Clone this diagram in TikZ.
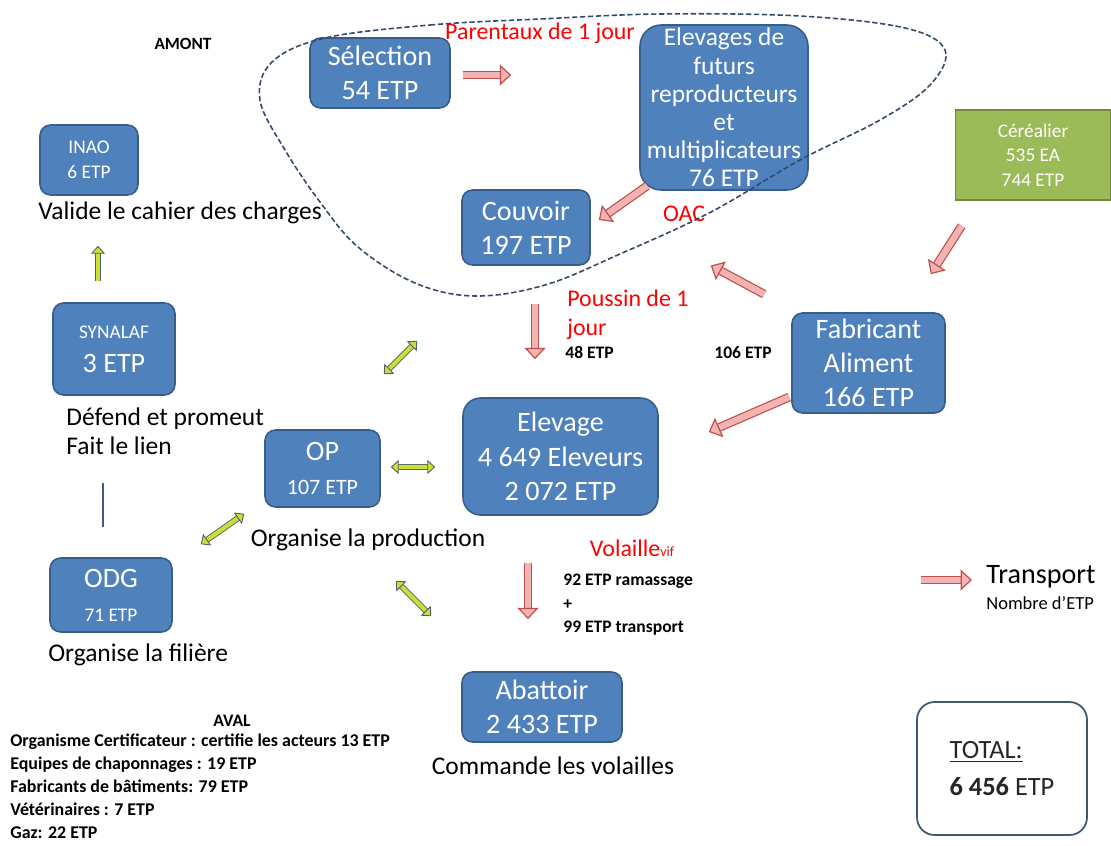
\documentclass[tikz,border=0pt]{standalone}
\usepackage{fontspec}
\setmainfont{Carlito}
\usepackage{tikz}
\usetikzlibrary{arrows.meta, positioning}
\definecolor{BoxBlue}{RGB}{79,129,189}
\definecolor{BoxEdge}{RGB}{56,93,138}
\definecolor{CerGreen}{RGB}{155,187,89}
\definecolor{CerEdge}{RGB}{113,137,63}
\definecolor{ArrRed}{RGB}{192,80,77}
\definecolor{ArrPink}{RGB}{242,180,178}
\definecolor{YelFill}{RGB}{206,222,52}
\definecolor{YelEdge}{RGB}{72,96,110}
\definecolor{RedTxt}{RGB}{255,0,0}
\definecolor{DashEdge}{RGB}{52,74,104}
\definecolor{TotEdge}{RGB}{64,88,115}
\newcommand{\smtxt}{\fontsize{11}{14}\selectfont}

\begin{document}
\begin{tikzpicture}[x=0.02cm, y=-0.02cm,
    bx/.style={rectangle, rounded corners=6pt, draw=BoxEdge, fill=BoxBlue,
               text=white, align=center, line width=0.9pt, inner sep=0pt,
               font=\fontsize{16}{19.5}\selectfont},
    txt/.style={font=\fontsize{14.5}{17}\selectfont, align=left, inner sep=0pt},
    rtxt/.style={font=\fontsize{13.6}{16}\selectfont, text=RedTxt, align=left,
                 inner sep=0pt},
    ntxt/.style={font=\fontsize{10}{13.4}\selectfont\bfseries, align=left,
                 inner sep=0pt},
    rarr/.style={draw=ArrRed, line width=0.7pt, double=ArrPink,
                 double distance=3.6pt,
                 -{Triangle[open, fill=ArrPink, length=6.5pt, width=12pt,
                            line width=0.7pt]}},
    yarr/.style={draw=YelEdge, line width=0.5pt, double=YelFill,
                 double distance=2.4pt,
                 >={Triangle[open, fill=YelFill, length=4.5pt, width=8pt,
                             line width=0.5pt]}}
  ]
  \useasboundingbox (0,0) rectangle (1111,845);

  % Amont
  \node[font=\fontsize{9.8}{11}\selectfont\bfseries] (amont) at (183,44) {AMONT};
  \node[bx, minimum width=2.8cm, minimum height=1.4cm]
        (sel) at (380,73) {Sélection\\54 ETP};
  \node[bx, minimum width=3.36cm, minimum height=3.3cm, rounded corners=12pt,
        font=\fontsize{14.5}{16}\selectfont]
        (fut) at (724,107.5)
        {Elevages de\\futurs\\reproducteurs\\et\\multiplicateurs\\76 ETP};
  \node[bx, minimum width=2.56cm, minimum height=1.5cm]
        (couv) at (526,227.5) {Couvoir\\197 ETP};
  \node[rectangle, draw=CerEdge, fill=CerGreen, text=white, line width=0.9pt,
        align=center, font=\smtxt, minimum width=3.1cm, minimum height=1.8cm]
        (cer) at (1033,155) {Céréalier\\535 EA\\744 ETP};
  \node[bx, minimum width=3.06cm, minimum height=2cm]
        (fab) at (868.5,363) {Fabricant\\Aliment\\166 ETP};

  % Elevage et aval
  \node[bx, minimum width=3.9cm, minimum height=2.34cm, rounded corners=10pt]
        (elv) at (560.5,456.5) {Elevage\\4 649 Eleveurs\\2 072 ETP};
  \node[bx, minimum width=3.2cm, minimum height=1.4cm]
        (abat) at (542,707) {Abattoir\\2 433 ETP};

  % Organismes
  \node[bx, minimum width=1.96cm, minimum height=1.4cm, font=\smtxt]
        (inao) at (89,160) {INAO\\6 ETP};
  \node[bx, minimum width=2.44cm, minimum height=1.84cm]
        (syn) at (114,349) {{\smtxt SYNALAF}\\3 ETP};
  \node[bx, minimum width=2.44cm, minimum height=1.48cm]
        (odg) at (111,595) {ODG\\{\smtxt 71 ETP}};
  \node[bx, minimum width=2.3cm, minimum height=1.54cm]
        (op) at (322.5,468.5) {OP\\{\fontsize{12.5}{15}\selectfont 107 ETP}};

  % Total
  \node[rectangle, rounded corners=10pt, draw=TotEdge, fill=white,
        line width=1pt, minimum width=3.4cm, minimum height=2.66cm,
        align=left, font=\fontsize{15}{21}\selectfont, text=black!85]
        (tot) at (1002,768.5) {\underline{TOTAL:}\\\textbf{6 456} ETP};

  % Texts
  \node[txt, anchor=west] (valide) at (38,213) {Valide le cahier des charges};
  \node[txt, anchor=north west] (defend) at (66,407)
        {Défend et promeut\\Fait le lien};
  \node[txt, anchor=west] (filiere) at (48,655) {Organise la filière};
  \node[txt] (prod) at (368,540) {Organise la production};
  \node[txt] (cmd) at (553,766) {Commande les volailles};

  \node[rtxt] (parent) at (540,33) {Parentaux de 1 jour};
  \node[rtxt] (oac) at (684,214) {OAC};
  \node[rtxt, anchor=north west] (poussin) at (567,290) {Poussin de 1\\jour};
  \node[rtxt] (volaille) at (632,548)
        {Volaille{\fontsize{8}{9}\selectfont vif}};

  \node[ntxt, anchor=west] (etp48) at (565,352) {48 ETP};
  \node[ntxt] (etp106) at (743,353) {106 ETP};
  \node[ntxt, anchor=north west] (ramas) at (563,574)
        {92 ETP ramassage\\+\\99 ETP transport};

  % Legende
  \node[font=\fontsize{16}{19}\selectfont, anchor=west, inner sep=0pt]
        (trans) at (986,577) {Transport};
  \node[font=\fontsize{10.5}{12}\selectfont, anchor=west, inner sep=0pt]
        (nbetp) at (986,603) {Nombre d'ETP};

  % Aval
  \node[font=\fontsize{10}{11}\selectfont\bfseries] (aval) at (232,721) {AVAL};
  \node[ntxt, anchor=north west, font=\fontsize{10.2}{13}\selectfont\bfseries]
        (avallist) at (10,734)
        {Organisme Certificateur : certifie les acteurs 13 ETP\\
         Equipes de chaponnages : 19 ETP\\
         Fabricants de bâtiments: 79 ETP\\
         Vétérinaires : 7 ETP\\
         Gaz: 22 ETP};

  % Flux
  \draw[rarr] ([shift={(12,2)}]sel.east) -- ([shift={(-128,-32.5)}]fut.west);
  \draw[rarr] ([shift={(8,-5)}]fut.south west) -- ([shift={(8,-7.5)}]couv.east);
  \draw[rarr] ([shift={(7,25)}]cer.south west) -- ([shift={(-15,-38)}]fab.north east);
  \draw[rarr] ([shift={(-27,-18)}]fab.north west) -- ([shift={(120,38)}]couv.east);
  \draw[rarr] ([shift={(9,38)}]couv.south) -- ([shift={(-25.5,-38)}]elv.north);
  \draw[rarr] ([shift={(-2,34)}]fab.west) -- ([shift={(50,-24.5)}]elv.east);
  \draw[rarr] ([shift={(-32.5,47)}]elv.south) -- ([shift={(-14,-52)}]abat.north);
  \draw[rarr] ([shift={(-65,3)}]trans.west) -- ([shift={(-14,3)}]trans.west);

  \draw[yarr, <->] ([shift={(10,-1.5)}]op.east) -- ([shift={(-27,10.5)}]elv.west);
  \draw[yarr, <->] ([shift={(28,-13)}]odg.north east) -- ([shift={(-20,6)}]op.south west);
  \draw[yarr, <->] ([shift={(3,-55)}]op.north east) -- ([shift={(-44,75)}]couv.south west);
  \draw[yarr, <->] ([shift={(15,73)}]op.south east) -- ([shift={(-30,-55)}]abat.north west);
  \draw[yarr, ->] ([shift={(-16,-21)}]syn.north) -- ([shift={(9,50)}]inao.south);
  \draw[draw=BoxEdge, line width=1.3pt]
       ([shift={(-11,87)}]syn.south) -- ([shift={(-8,-30)}]odg.north);

  % Amont group
  \draw[DashEdge, line width=0.9pt, dash pattern=on 3pt off 1.5pt]
       plot[smooth cycle, tension=0.6] coordinates {
         (325,38) (430,25) (540,19) (660,14) (800,16) (905,28) (945,50)
         (930,85) (880,120) (800,160) (711,212) (620,254) (545,285)
         (475,296) (415,283) (358,247) (320,202) (285,150) (260,100)
         (272,62)};
\end{tikzpicture}
\end{document}
